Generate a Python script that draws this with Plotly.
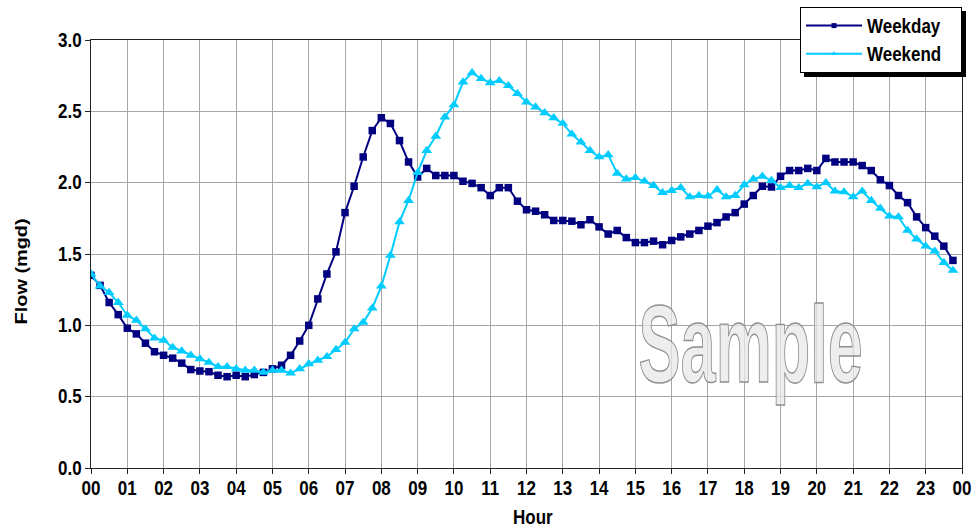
import plotly.graph_objects as go

# 15-minute intervals over a day
minutes = list(range(0, 1440, 15))
hours = [m / 60 for m in minutes]

hour_ticks = list(range(0, 25))
hour_labels = ["00", "01", "02", "03", "04", "05", "06", "07", "08", "09", "10", "11",
               "12", "13", "14", "15", "16", "17", "18", "19", "20", "21", "22", "23", "00"]

weekday = [
    1.35, 1.28, 1.16, 1.075, 0.98, 0.94, 0.875, 0.815, 0.79, 0.77, 0.735, 0.69,
    0.68, 0.675, 0.65, 0.64, 0.65, 0.64, 0.655, 0.67, 0.695, 0.72, 0.79, 0.89,
    1.0, 1.185, 1.36, 1.515, 1.79, 1.975, 2.18, 2.365, 2.455, 2.415, 2.295, 2.145,
    2.04, 2.10, 2.05, 2.05, 2.05, 2.01, 1.995, 1.965, 1.91, 1.965, 1.965, 1.87,
    1.81, 1.80, 1.775, 1.735, 1.735, 1.73, 1.705, 1.74, 1.69, 1.64, 1.665, 1.615,
    1.58, 1.58, 1.59, 1.565, 1.595, 1.62, 1.64, 1.665, 1.695, 1.72, 1.76, 1.79,
    1.85, 1.91, 1.975, 1.97, 2.045, 2.085, 2.085, 2.10, 2.085, 2.17, 2.145, 2.145,
    2.145, 2.12, 2.085, 2.02, 1.98, 1.91, 1.86, 1.76, 1.685, 1.625, 1.555, 1.455,
]

weekend = [
    1.36, 1.275, 1.23, 1.16, 1.07, 1.035, 0.975, 0.91, 0.895, 0.845, 0.82, 0.79,
    0.765, 0.74, 0.71, 0.71, 0.695, 0.685, 0.685, 0.67, 0.685, 0.685, 0.665, 0.695,
    0.73, 0.755, 0.78, 0.83, 0.88, 0.975, 1.02, 1.12, 1.275, 1.49, 1.725, 1.875,
    2.07, 2.225, 2.325, 2.46, 2.545, 2.705, 2.77, 2.73, 2.70, 2.715, 2.68, 2.625,
    2.565, 2.53, 2.49, 2.455, 2.415, 2.34, 2.285, 2.225, 2.18, 2.195, 2.065, 2.025,
    2.035, 2.01, 1.98, 1.93, 1.945, 1.965, 1.90, 1.91, 1.905, 1.95, 1.90, 1.91,
    1.985, 2.025, 2.045, 2.015, 1.965, 1.98, 1.965, 1.995, 1.97, 2.0, 1.94, 1.935,
    1.90, 1.94, 1.875, 1.82, 1.765, 1.76, 1.665, 1.605, 1.555, 1.52, 1.44, 1.385,
]

WEEKDAY_COLOR = "#000080"
WEEKEND_COLOR = "#00CCFF"
FONT = "Liberation Sans, Arial, sans-serif"

fig = go.Figure()

fig.add_trace(go.Scatter(
    x=hours, y=weekday, mode="lines+markers", name="Weekday", showlegend=False,
    line=dict(color=WEEKDAY_COLOR, width=2),
    marker=dict(symbol="square", size=7.5, color=WEEKDAY_COLOR),
))
fig.add_trace(go.Scatter(
    x=hours, y=weekend, mode="lines+markers", name="Weekend", showlegend=False,
    line=dict(color=WEEKEND_COLOR, width=2),
    marker=dict(symbol="triangle-up", size=9.5, color=WEEKEND_COLOR),
))
# legend entries (small markers like the original legend)
fig.add_trace(go.Scatter(
    x=[None], y=[None], mode="lines+markers", name="Weekday&nbsp;&nbsp;&nbsp;", legendgroup="a",
    line=dict(color=WEEKDAY_COLOR, width=2),
    marker=dict(symbol="square", size=5, color=WEEKDAY_COLOR),
))
fig.add_trace(go.Scatter(
    x=[None], y=[None], mode="lines+markers", name="Weekend&nbsp;&nbsp;&nbsp;", legendgroup="b",
    line=dict(color=WEEKEND_COLOR, width=2),
    marker=dict(symbol="triangle-up", size=5, color=WEEKEND_COLOR),
))

fig.update_layout(
    width=972, height=532,
    margin=dict(l=91, r=10, t=40, b=64, autoexpand=False),
    paper_bgcolor="white", plot_bgcolor="white",
    font=dict(family=FONT, color="black", size=17),
    legend=dict(
        x=1.0, xanchor="right", y=1.077, yanchor="top",
        bgcolor="white", bordercolor="black", borderwidth=1,
        font=dict(family=FONT, size=17, color="black", weight="bold"),
        tracegroupgap=3, itemwidth=56,
    ),
    xaxis=dict(
        range=[0, 24], tickvals=hour_ticks, ticktext=hour_labels,
        showgrid=True, gridcolor="#a6a6a6", gridwidth=1,
        showline=True, linecolor="#222", linewidth=1, mirror=True,
        ticks="outside", ticklen=5, tickcolor="#222",
        tickfont=dict(family=FONT, size=17, weight="bold"),
        zeroline=False, automargin=False,
    ),
    yaxis=dict(
        range=[0, 3], dtick=0.5, tickformat=".1f",
        showgrid=True, gridcolor="#a6a6a6", gridwidth=1,
        showline=True, linecolor="#222", linewidth=1, mirror=True,
        ticks="outside", ticklen=5, tickcolor="#222",
        tickfont=dict(family=FONT, size=17, weight="bold"),
        zeroline=False, automargin=False,
    ),
    annotations=[
        dict(text="Hour", xref="paper", yref="paper", x=0.5075, y=-0.1168,
             xanchor="center", yanchor="middle", showarrow=False,
             font=dict(family=FONT, size=17, weight="bold")),
        dict(text="Flow (mgd)", xref="paper", yref="paper", x=-0.0792, y=0.4587,
             xanchor="center", yanchor="middle", showarrow=False, textangle=-90,
             font=dict(family=FONT, size=17, weight="bold")),
        dict(text="Sample", xref="x", yref="y", x=18.16, y=0.872,
             xanchor="center", yanchor="middle", showarrow=False,
             font=dict(family=FONT, size=110, weight="bold",
                       color="rgba(232,232,232,0.75)")),
    ],
)

post = """
document.body.style.margin = '0';
document.body.style.padding = '0';
var gd = document.getElementById('{plot_id}');
function stretch(el, sx, sy) {
  var b = el.getBBox();
  var cx = b.x + b.width / 2, cy = b.y + b.height / 2;
  var tr = el.getAttribute('transform') || '';
  el.setAttribute('transform', tr + ' translate(' + cx + ',' + cy + ') scale(' + sx + ',' + sy +
                  ') translate(' + (-cx) + ',' + (-cy) + ')');
}
gd.querySelectorAll('text.annotation-text').forEach(function(t){
  if (t.textContent === 'Sample') {
    stretch(t, 0.573, 1);
    t.style.stroke = '#8f8f8f';
    t.style.strokeWidth = '1.4px';
  } else if (t.textContent === 'Flow (mgd)') {
    stretch(t, 1.17, 1);
  } else {
    stretch(t, 1, 1.15);
  }
});
gd.querySelectorAll('g.xtick text, g.ytick text, g.legend text.legendtext').forEach(function(t){
  stretch(t, 1, 1.15);
});
var bg = gd.querySelector('g.legend rect.bg');
if (bg) {
  var sh = bg.cloneNode(false);
  sh.setAttribute('class', 'legend-shadow');
  sh.style.fill = 'black';
  sh.style.stroke = 'black';
  var tr = bg.getAttribute('transform') || '';
  sh.setAttribute('transform', tr + ' translate(4,4)');
  bg.parentNode.insertBefore(sh, bg);
}
"""

fig.write_html("out.html", post_script=post, config={"displayModeBar": False})
